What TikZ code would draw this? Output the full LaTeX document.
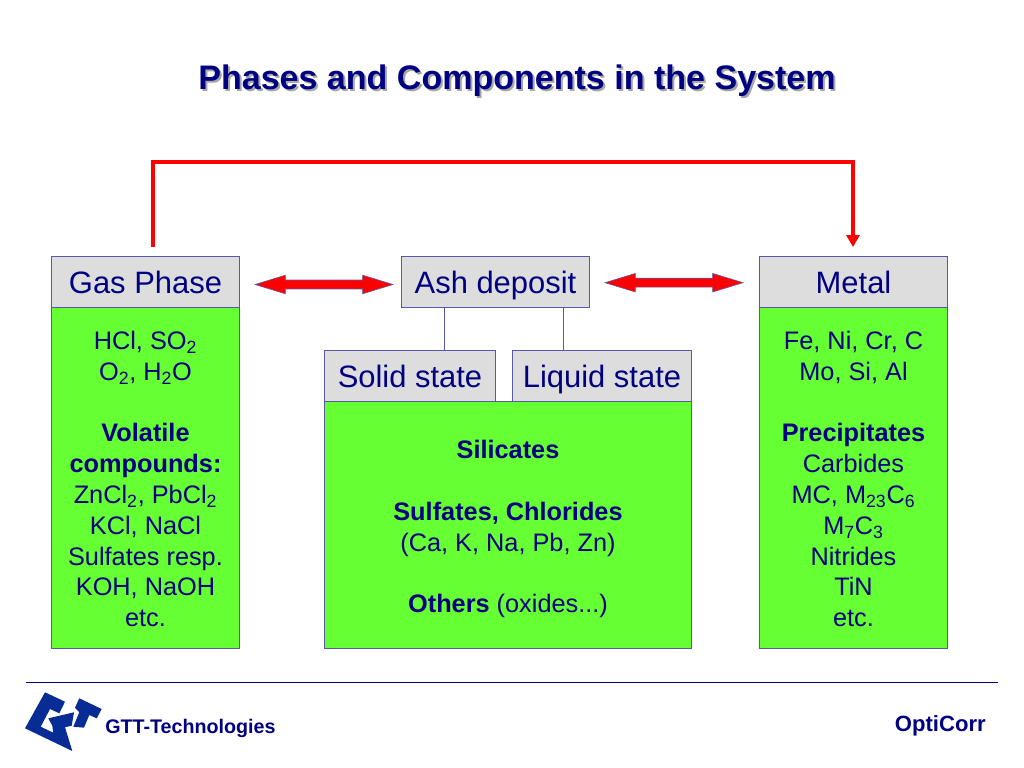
\documentclass[tikz,border=0pt]{standalone}
\usepackage{fontspec}
\setmainfont{Liberation Sans}
\usetikzlibrary{arrows.meta,shapes.arrows}
\definecolor{inkblue}{RGB}{0,0,128}
\definecolor{edgeblue}{RGB}{88,88,168}
\definecolor{boxgreen}{RGB}{102,255,51}
\definecolor{headgrey}{RGB}{221,221,221}
\definecolor{logoblue}{RGB}{8,44,150}
\tikzset{
  headbox/.style={draw=edgeblue,fill=headgrey,text=inkblue,line width=0.7pt,
    font=\fontsize{22}{26}\selectfont,anchor=north west,inner sep=0pt,
    text height=16pt,text depth=0pt},
  bodybox/.style={draw=edgeblue,fill=boxgreen,text=inkblue,line width=0.7pt,
    font=\fontsize{18}{21.9}\selectfont,
    align=center,anchor=north west,inner sep=0pt},
  redarrow/.style={double arrow,draw=edgeblue,fill=red,line width=0.4pt,inner sep=0pt,
    inner ysep=4.2*0.025cm,minimum height=138*0.025cm,
    double arrow head extend=4.8*0.025cm,double arrow tip angle=34},
  redline/.style={draw=red,line width=2.8pt},
  link/.style={draw=edgeblue,line width=0.7pt},
}
\newcommand{\lowidx}[1]{\smash{\textsubscript{#1}}}
\begin{document}
\begin{tikzpicture}[x=0.025cm,y=-0.025cm]
  \useasboundingbox (0,0) rectangle (1024,768);

  % Titel mit Schatten
  \node[text=black!35,font=\fontsize{24.2}{28}\selectfont\bfseries] at (519,83) {Phases and Components in the System};
  \node (title) [text=inkblue,font=\fontsize{24.2}{28}\selectfont\bfseries] at (517,81) {Phases and Components in the System};

  % Linke Spalte
  \node (gas) [headbox,minimum width=188*0.025cm,minimum height=51*0.025cm] at (51,256) {Gas Phase};
  \node (gasbody) [bodybox,minimum width=188*0.025cm,minimum height=341*0.025cm] at (51,307) {%
    \rule{0pt}{14.6pt}HCl, SO\lowidx{2}\\ O\lowidx{2}, H\lowidx{2}O\\[21.9pt]
    \textbf{Volatile}\\ \textbf{compounds:}\\ ZnCl\lowidx{2}, PbCl\lowidx{2}\\ KCl, NaCl\\
    Sulfates resp.\\ KOH, NaOH\\ etc.};

  % Mittlere Spalte
  \node (ash) [headbox,minimum width=188*0.025cm,minimum height=51*0.025cm] at (401,256) {Ash deposit};
  \node (middlebody) [bodybox,minimum width=367*0.025cm,minimum height=247*0.025cm] at (324,401) {%
    \rule{0pt}{19pt}\textbf{Silicates}\\[21.9pt]
    \textbf{Sulfates, Chlorides}\\ (Ca, K, Na, Pb, Zn)\\[21.9pt]
    \textbf{Others} (oxides...)};
  \node (solid) [headbox,minimum width=171*0.025cm,minimum height=51*0.025cm] at (324,350) {Solid state};
  \node (liquid) [headbox,minimum width=179*0.025cm,minimum height=51*0.025cm] at (512,350) {Liquid state};

  % Rechte Spalte
  \node (metal) [headbox,minimum width=188*0.025cm,minimum height=51*0.025cm] at (759,256) {Metal};
  \node (metalbody) [bodybox,minimum width=188*0.025cm,minimum height=341*0.025cm] at (759,307) {%
    \rule{0pt}{14.6pt}Fe, Ni, Cr, C\\ Mo, Si, Al\\[21.9pt]
    \textbf{Precipitates}\\ Carbides\\ MC, M\lowidx{23}C\lowidx{6}\\ M\lowidx{7}C\lowidx{3}\\ Nitrides\\ TiN\\ etc.};

  % Verbindungen
  \coordinate (solidtop) at (444,350);
  \coordinate (liquidtop) at (563,350);
  \draw[link] (ash.south -| solidtop) -- (solidtop);
  \draw[link] (ash.south -| liquidtop) -- (liquidtop);

  \node (gasash) [redarrow] at (324,284.5) {};
  \node (ashmetal) [redarrow] at (674,282.7) {};

  \coordinate (gasout) at (153,247);
  \coordinate (metalin) at (853,247);
  \draw[redline,-{Triangle[length=12*0.025cm,width=13*0.025cm]}]
    (gasout) -- (153,162) -- (853,162) -- (metalin);

  % Fusszeile
  \coordinate (ruleleft) at (26,682.5);
  \coordinate (ruleright) at (998,682.5);
  \draw[draw=inkblue,line width=0.5pt] (ruleleft) -- (ruleright);
  \fill[logoblue] (45,692.3) -- (65,701.7) -- (59.3,713.3) -- (50,709) -- (40.7,726.7) -- (53.3,732.7)
    -- (52.3,725.7) -- (48.3,718.3) -- (74,712.3) -- (71.7,725.7) -- (65,727.3) -- (72.3,751) -- (25,728.3) -- cycle;
  \fill[logoblue] (79.3,698.3) -- (101.7,709) -- (96.7,718.3) -- (89.3,715) -- (84,727.7) -- (73.3,726.7)
    -- (79.3,712.3) -- (75,707.7) -- cycle;
  \node (company) [text=inkblue,font=\fontsize{14}{17}\selectfont\bfseries,anchor=west,inner sep=0pt] at (105,728) {GTT-Technologies};
  \node (product) [text=inkblue,font=\fontsize{15.7}{19}\selectfont\bfseries,anchor=east,inner sep=0pt] at (986,726) {OptiCorr};
\end{tikzpicture}
\end{document}
